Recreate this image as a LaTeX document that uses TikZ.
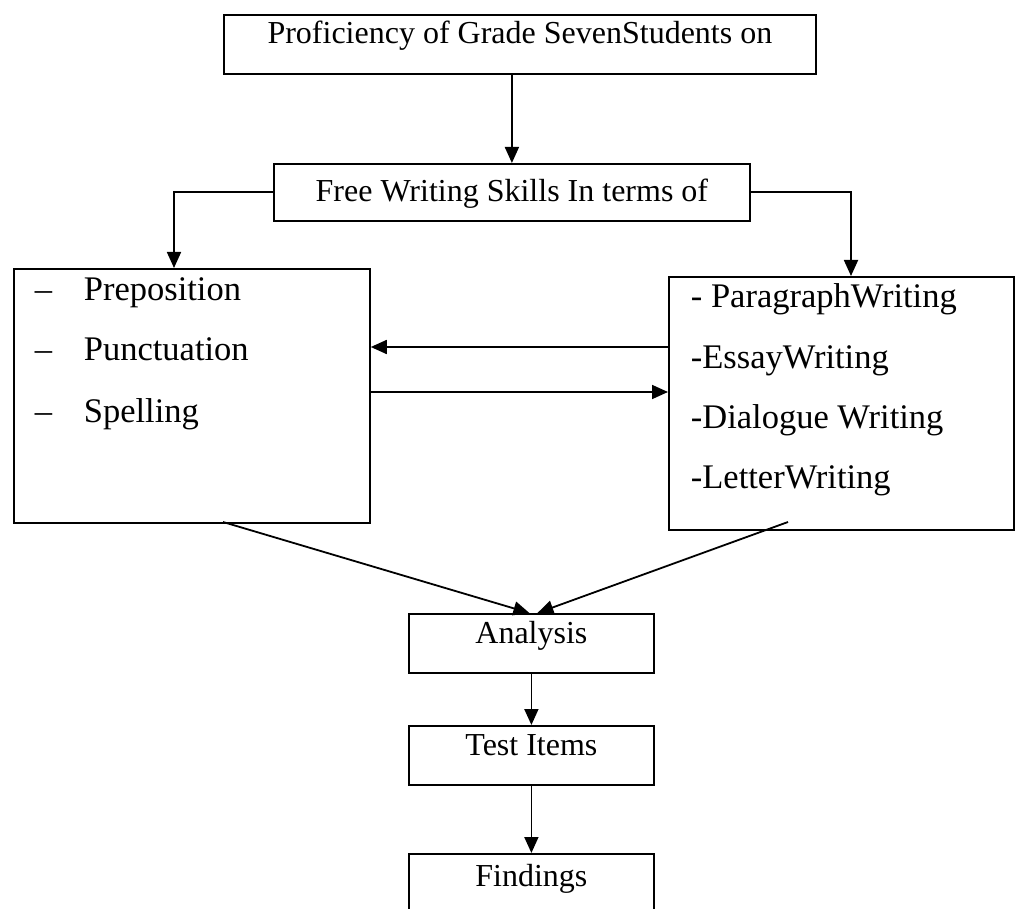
\documentclass[tikz,border=0pt]{standalone}
\usepackage{fontspec}
\setmainfont{Liberation Serif}
\usetikzlibrary{arrows.meta}

\begin{document}
\begin{tikzpicture}[x=1pt,y=-1pt,
  line width=1.8pt,
  box/.style={draw,rectangle,anchor=north west,inner sep=0pt,font=\fontsize{32}{38}\selectfont},
  item/.style={anchor=base west,inner sep=0pt,font=\fontsize{34.5}{41}\selectfont},
  arr/.style={-{Triangle[length=16pt,width=14pt]}}]

\useasboundingbox (0,0) rectangle (1015,909);

%draw boxes
  \node[box,minimum width=592pt,minimum height=59pt,text height=29pt,text depth=30pt] (prof) at (223,14) {Proficiency of Grade SevenStudents on};
  \node[box,minimum width=476pt,minimum height=57pt,text height=38pt,text depth=19pt] (free) at (273,163) {Free Writing Skills In terms of};
  \node[box,minimum width=356pt,minimum height=254pt] (lbox) at (13,268) {};
  \node[box,minimum width=345pt,minimum height=253pt] (rbox) at (668,276) {};
  \node[box,minimum width=245pt,minimum height=59pt,text height=30pt,text depth=29pt] (ana) at (408,613) {Analysis};
  \node[box,minimum width=245pt,minimum height=59pt,text height=30pt,text depth=29pt] (test) at (408,725) {Test Items};
  \node[box,minimum width=245pt,minimum height=80pt,text height=33pt,text depth=47pt] (find) at (408,853) {Findings};

%list items
  \foreach \yb/\txt [count=\i] in {301/Preposition,361/Punctuation,422/Spelling}
    \node[item] (lp\i) at (34,\yb) {\makebox[49pt][l]{–}\txt};
  \foreach \yb/\txt [count=\i] in {308/- ParagraphWriting,368/-EssayWriting,428/-Dialogue Writing,488/-LetterWriting}
    \node[item] (rp\i) at (690,\yb) {\txt};

%draw arrows
  \coordinate (lin) at (174,268);
  \coordinate (rin) at (851,276);
  \coordinate (lout) at (223,522);
  \coordinate (rout) at (788,522);
  \draw[arr] (free.north |- prof.south) -- (free.north);
  \draw[arr] (free.west) -| (lin);
  \draw[arr] (free.east) -| (rin);
  \draw[arr] (rbox.west |- 0,347) -- (lbox.east |- 0,347);
  \draw[arr] (lbox.east |- 0,392) -- (rbox.west |- 0,392);
  \draw[arr] (lout) -- ([xshift=-2pt]ana.north);
  \draw[arr] (rout) -- ([xshift=6pt]ana.north);
  \draw[arr] (ana.south) -- (test.north);
  \draw[arr] (test.south) -- (find.north);

\end{tikzpicture}
\end{document}
